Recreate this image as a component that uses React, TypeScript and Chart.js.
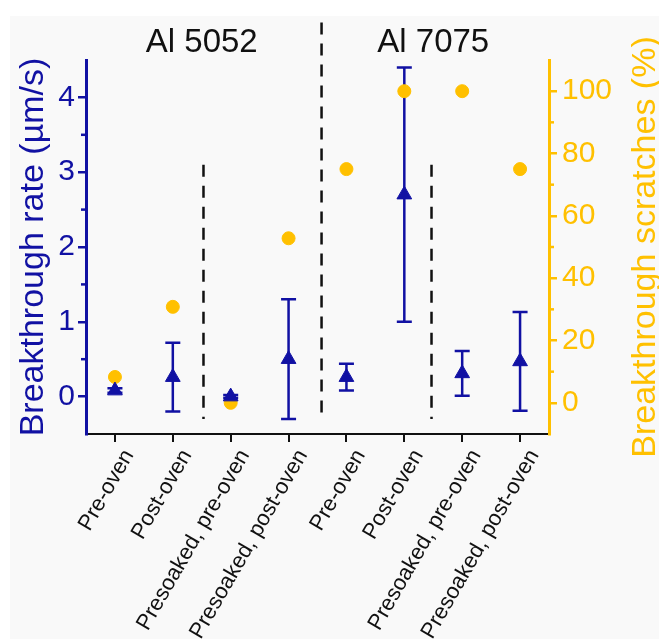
import React, { useEffect, useRef } from 'react';
import { Chart, registerables } from 'chart.js';

Chart.register(...registerables);

const categories = [
  'Pre-oven',
  'Post-oven',
  'Presoaked, pre-oven',
  'Presoaked, post-oven',
  'Pre-oven',
  'Post-oven',
  'Presoaked, pre-oven',
  'Presoaked, post-oven',
];
const rateMeans = [0.08, 0.26, 0.0, 0.5, 0.26, 2.7, 0.31, 0.47];
const rateErrors = [0.03, 0.46, 0.02, 0.8, 0.18, 1.7, 0.3, 0.66];
const scratchPercent = [8.3, 30.8, 0, 52.8, 75, 100, 100, 75];

const leftTicks = [0, 1, 2, 3, 4];
const leftMinorTicks = [0.5, 1.5, 2.5, 3.5];
const rightTicks = [0, 20, 40, 60, 80, 100];
const rightMinorTicks = [10, 30, 50, 70, 90];

const groupTitles = ['Al 5052', 'Al 7075'];
const groupFirst = [0, 4];
const groupLast = [3, 7];
const dividerPositions = [1.53, 3.57, 5.47];
const dividerTops = [3.1, 5.0, 3.1];
const dividerBottoms = [-0.3, -0.33, -0.3];

const leftTitle = 'Breakthrough rate (\u00b5m/s)';
const rightTitle = 'Breakthrough scratches (%)';

const BLUE = '#1111a3';
const YELLOW = '#ffc000';
const BLACK = '#111111';
const FONT = '"Liberation Sans", Arial, Helvetica, sans-serif';

const overlayPlugin = {
  id: 'overlay',
  beforeDatasetsDraw(chart: any) {
    const { ctx, scales } = chart;
    const x = scales.x;
    const y = scales.yL;
    ctx.save();
    ctx.strokeStyle = BLUE;
    ctx.lineWidth = 2.5;
    rateMeans.forEach((m, i) => {
      const px = x.getPixelForValue(i);
      const top = y.getPixelForValue(m + rateErrors[i]);
      const bot = y.getPixelForValue(m - rateErrors[i]);
      const cap = 7.5;
      ctx.beginPath();
      ctx.moveTo(px, top);
      ctx.lineTo(px, bot);
      ctx.moveTo(px - cap, top);
      ctx.lineTo(px + cap, top);
      ctx.moveTo(px - cap, bot);
      ctx.lineTo(px + cap, bot);
      ctx.stroke();
    });
    ctx.restore();
  },
  afterDraw(chart: any) {
    const { ctx, scales, chartArea } = chart;
    const x = scales.x;
    const yL = scales.yL;
    const yR = scales.yR;
    ctx.save();
    // minor ticks
    ctx.lineWidth = 2.5;
    ctx.strokeStyle = BLUE;
    leftMinorTicks.forEach((v) => {
      const py = yL.getPixelForValue(v);
      ctx.beginPath();
      ctx.moveTo(chartArea.left - 5, py);
      ctx.lineTo(chartArea.left, py);
      ctx.stroke();
    });
    ctx.strokeStyle = YELLOW;
    rightMinorTicks.forEach((v) => {
      const py = yR.getPixelForValue(v);
      ctx.beginPath();
      ctx.moveTo(chartArea.right, py);
      ctx.lineTo(chartArea.right + 5, py);
      ctx.stroke();
    });
    // dashed dividers
    ctx.strokeStyle = BLACK;
    ctx.lineWidth = 2.5;
    ctx.setLineDash([12, 9]);
    dividerPositions.forEach((p, i) => {
      const px = x.getPixelForValue(p);
      ctx.beginPath();
      ctx.moveTo(px, yL.getPixelForValue(dividerTops[i]));
      ctx.lineTo(px, yL.getPixelForValue(dividerBottoms[i]));
      ctx.stroke();
    });
    ctx.setLineDash([]);
    // group titles
    ctx.fillStyle = BLACK;
    ctx.font = `33px ${FONT}`;
    ctx.textAlign = 'center';
    ctx.textBaseline = 'alphabetic';
    groupTitles.forEach((t, i) => {
      const cx = (x.getPixelForValue(groupFirst[i]) + x.getPixelForValue(groupLast[i])) / 2;
      ctx.fillText(t, cx, chartArea.top - 8);
    });
    // axis titles
    const cy = (chartArea.top + chartArea.bottom) / 2;
    ctx.font = `34px ${FONT}`;
    ctx.fillStyle = BLUE;
    ctx.save();
    ctx.translate(33, cy);
    ctx.rotate(-Math.PI / 2);
    ctx.fillText(leftTitle, 0, 0);
    ctx.restore();
    ctx.fillStyle = YELLOW;
    ctx.save();
    ctx.translate(645, cy);
    ctx.rotate(-Math.PI / 2);
    ctx.fillText(rightTitle, 0, 0);
    ctx.restore();
    ctx.restore();
  },
};

export default function App() {
  const ref = useRef<HTMLCanvasElement | null>(null);
  useEffect(() => {
    if (!ref.current) return;
    const chart = new Chart(ref.current, {
      type: 'line',
      data: {
        labels: categories,
        datasets: [
          {
            label: 'Breakthrough rate',
            data: rateMeans,
            yAxisID: 'yL',
            showLine: false,
            pointStyle: 'triangle',
            pointRadius: 8.5,
            pointBackgroundColor: BLUE,
            pointBorderColor: BLUE,
            pointBorderWidth: 1,
          },
          {
            label: 'Breakthrough scratches',
            data: scratchPercent,
            yAxisID: 'yR',
            showLine: false,
            pointStyle: 'circle',
            pointRadius: 6.5,
            pointBackgroundColor: YELLOW,
            pointBorderColor: YELLOW,
            pointBorderWidth: 1,
          },
        ],
      },
      options: {
        responsive: false,
        animation: false,
        devicePixelRatio: 1,
        layout: { padding: { top: 44, left: 0, right: 0, bottom: 0 } },
        plugins: { legend: { display: false }, tooltip: { enabled: false } },
        scales: {
          x: {
            type: 'category',
            offset: true,
            grid: {
              display: true,
              drawOnChartArea: false,
              drawTicks: true,
              tickLength: 8,
              color: BLACK,
              lineWidth: 2,
            },
            border: { display: true, color: BLACK, width: 2 },
            ticks: {
              autoSkip: false,
              maxRotation: 60,
              minRotation: 60,
              color: BLACK,
              font: { family: FONT, size: 22 },
              padding: 3,
              labelOffset: 14,
            },
            afterFit(s: any) {
              s.height = 205;
            },
          },
          yL: {
            type: 'linear',
            position: 'left',
            min: -0.5,
            max: 4.5,
            afterBuildTicks(s: any) {
              s.ticks = leftTicks.map((v) => ({ value: v }));
            },
            grid: {
              drawOnChartArea: false,
              drawTicks: true,
              tickLength: 8,
              color: BLUE,
              lineWidth: 2.5,
            },
            border: { display: true, color: BLUE, width: 3 },
            ticks: { color: BLUE, font: { family: FONT, size: 30 }, padding: 3 },
            title: { display: false },
            afterFit(s: any) {
              s.width = 76;
            },
          },
          yR: {
            type: 'linear',
            position: 'right',
            min: -10,
            max: 110,
            afterBuildTicks(s: any) {
              s.ticks = rightTicks.map((v) => ({ value: v }));
            },
            grid: {
              drawOnChartArea: false,
              drawTicks: true,
              tickLength: 8,
              color: YELLOW,
              lineWidth: 2.5,
            },
            border: { display: true, color: YELLOW, width: 3 },
            ticks: { color: YELLOW, font: { family: FONT, size: 30 }, padding: 5 },
            title: { display: false },
            afterFit(s: any) {
              s.width = 110;
            },
          },
        },
      },
      plugins: [overlayPlugin],
    });
    return () => chart.destroy();
  }, []);
  return (
    <div
      style={{
        position: 'absolute',
        left: 10,
        top: 16,
        width: 649,
        height: 623,
        background: '#f9f9f9',
      }}
    >
      <canvas ref={ref} width={649} height={623} style={{ display: 'block' }} />
    </div>
  );
}
